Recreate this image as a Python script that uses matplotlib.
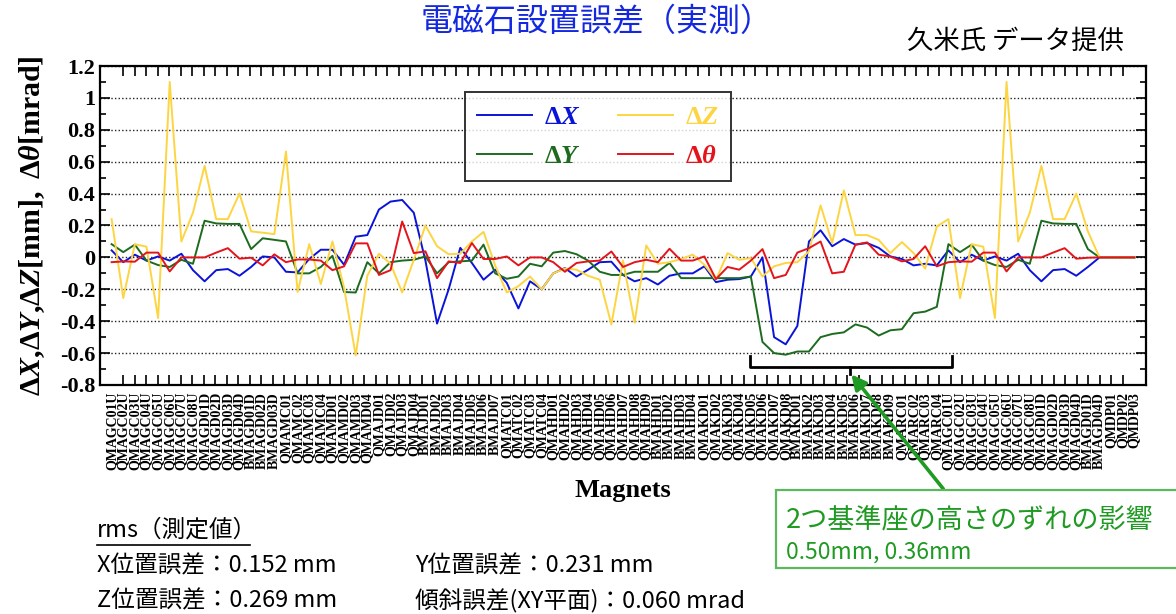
import matplotlib
matplotlib.use("Agg")
import matplotlib.pyplot as plt
from matplotlib.patches import Rectangle
from matplotlib.ticker import MultipleLocator, FuncFormatter, FixedLocator, NullFormatter
import numpy as np

# ---- data ----
# 72 magnets of the ring
ring_dx = [0.044, -0.03, 0.017, -0.02, 0.006, -0.02, 0.023, -0.08, -0.15, -0.08,
           -0.073, -0.115, -0.06, 0.006, 0.0, -0.09, -0.094, -0.01, 0.048, 0.048,
           -0.046, 0.13, 0.14, 0.30, 0.35, 0.36, 0.28, -0.02, -0.415, -0.20,
           0.06, -0.035, -0.14, -0.077, -0.16, -0.32, -0.15, -0.20, -0.10, -0.067,
           -0.12, -0.077, -0.03, -0.027, -0.11, -0.15, -0.13, -0.17, -0.115, -0.10,
           -0.10, -0.056, -0.155, -0.14, -0.136, -0.12, 0.0, -0.50, -0.545, -0.43,
           0.10, 0.17, 0.07, 0.115, 0.08, 0.09, 0.06, 0.006, -0.01, -0.05,
           -0.04, -0.05]
ring_dy = [0.083, 0.033, 0.08, -0.02, -0.048, -0.06, -0.015, -0.04, 0.23, 0.213,
           0.21, 0.21, 0.052, 0.12, 0.11, 0.10, -0.10, -0.10, -0.06, 0.01,
           -0.217, -0.22, -0.03, -0.10, -0.03, -0.02, -0.015, 0.006, -0.10, -0.03,
           -0.025, -0.02, 0.08, -0.10, -0.134, -0.12, -0.04, -0.056, 0.03, 0.04,
           0.02, -0.02, -0.09, -0.11, -0.11, -0.09, -0.09, -0.09, -0.035, -0.13,
           -0.13, -0.13, -0.13, -0.13, -0.13, -0.12, -0.53, -0.60, -0.61, -0.59,
           -0.59, -0.50, -0.48, -0.47, -0.42, -0.44, -0.49, -0.457, -0.45, -0.35,
           -0.34, -0.31]
ring_dz = [0.24, -0.255, 0.083, 0.067, -0.38, 1.10, 0.10, 0.28, 0.574, 0.24,
           0.24, 0.40, 0.163, 0.155, 0.146, 0.664, -0.217, 0.083, -0.167, 0.10,
           -0.19, -0.615, -0.115, 0.023, -0.04, -0.22, -0.015, 0.20, 0.07, 0.02,
           0.023, 0.10, 0.16, -0.05, -0.22, -0.18, -0.12, -0.20, -0.10, -0.07,
           -0.077, -0.115, -0.14, -0.42, -0.02, -0.41, 0.075, -0.04, -0.03, -0.01,
           0.017, -0.046, -0.14, 0.027, -0.015, -0.004, -0.12, -0.056, -0.035, -0.03,
           0.038, 0.326, 0.09, 0.42, 0.14, 0.14, 0.11, 0.027, 0.096, 0.027,
           -0.07, 0.194]
ring_dt = [-0.03, -0.025, -0.027, 0.03, 0.03, -0.088, 0.0, 0.0, 0.0, 0.03,
           0.058, -0.008, -0.002, -0.05, 0.019, -0.03, -0.013, -0.013, -0.02, -0.08,
           -0.056, 0.088, 0.088, -0.11, -0.08, 0.225, 0.027, 0.038, -0.13, -0.025,
           -0.035, 0.09, -0.01, -0.01, 0.006, -0.05, 0.0, 0.0, -0.03, -0.09,
           -0.035, -0.025, -0.02, 0.037, -0.06, -0.03, -0.015, -0.03, 0.054, -0.02,
           -0.02, 0.006, -0.136, -0.06, -0.077, -0.02, 0.052, -0.13, -0.11, 0.03,
           0.058, 0.10, -0.10, -0.09, 0.08, 0.094, 0.017, 0.006, -0.025, -0.01,
           0.07, -0.056]

# the ring closes: first 13 magnets are shown again, then 4 magnets at zero
n_repeat = 13
tail_zero = [0.0, 0.0, 0.0, 0.0]
dx = ring_dx + ring_dx[:n_repeat] + tail_zero
dy = ring_dy + ring_dy[:n_repeat] + tail_zero
dz = ring_dz + ring_dz[:n_repeat] + tail_zero
dt = ring_dt + ring_dt[:n_repeat] + tail_zero

ring_names = ([f"QMAGC0{n}U" for n in range(1, 9)]
              + [f"QMAGD0{n}D" for n in range(1, 5)]
              + [f"BMAGD0{n}D" for n in range(1, 4)]
              + [f"QMAMC0{n}" for n in range(1, 5)]
              + [f"QMAMD0{n}" for n in range(1, 5)]
              + [f"QMAJD0{n}" for n in range(1, 5)]
              + [f"BMAJD0{n}" for n in range(1, 8)]
              + [f"QMATC0{n}" for n in range(1, 5)]
              + [f"QMAHD0{n}" for n in range(1, 10)]
              + [f"BMAHD0{n}" for n in range(1, 5)]
              + [f"QMAKD0{n}" for n in range(1, 9)]
              + [f"BMAKD0{n}" for n in range(1, 10)]
              + [f"QMARC0{n}" for n in range(1, 5)])
magnets = ring_names + ring_names[:n_repeat] + ["BMAGD04D", "QMDP01", "QMDP02", "QMDP03"]

rms_lines = [("X位置誤差：0.152 mm", "Y位置誤差：0.231 mm"),
             ("Z位置誤差：0.269 mm", "傾斜誤差(XY平面)：0.060 mrad")]

# ---- style ----
plt.rcParams["mathtext.fontset"] = "custom"
plt.rcParams["mathtext.rm"] = "Liberation Serif:bold"
plt.rcParams["mathtext.it"] = "Liberation Serif:italic:bold"
plt.rcParams["mathtext.bf"] = "Liberation Serif:bold"
SERIF = "Liberation Serif"
JP = ["Noto Sans CJK JP", "DejaVu Sans"]

c_x = "#0a14d8"
c_y = "#1c6b1f"
c_z = "#fdd542"
c_t = "#e3141b"
c_note = "#1f9a22"

W, H = 1176, 614
fig = plt.figure(figsize=(W / 100, H / 100), dpi=100)
ax = fig.add_axes([100 / W, 1 - 385 / H, 1046 / W, 319 / H])

x = np.arange(len(dx))
ax.plot(x, dx, color=c_x, lw=1.4, label=r"$\mathit{\Delta X}$", zorder=3)
ax.plot(x, dy, color=c_y, lw=1.4, label=r"$\mathit{\Delta Y}$", zorder=3)
ax.plot(x, dz, color=c_z, lw=1.4, label=r"$\mathit{\Delta Z}$", zorder=3)
ax.plot(x, dt, color=c_t, lw=1.4, label=r"$\mathit{\Delta\theta}$", zorder=4)

n = len(dx)
ax.set_xlim(-1, n)
ax.set_ylim(-0.8, 1.2)
ax.yaxis.set_major_locator(MultipleLocator(0.2))
ax.yaxis.set_minor_locator(MultipleLocator(0.1))
ax.yaxis.set_major_formatter(FuncFormatter(lambda v, p: "%g" % round(v, 1)))
ax.grid(axis="y", which="major", color="#222222", linestyle=(0, (1, 1.6)), lw=1.0)
ax.tick_params(axis="y", which="both", direction="in", left=True, right=True,
               length=7, width=1.2)
ax.tick_params(axis="y", which="minor", length=4)
for lab in ax.get_yticklabels():
    lab.set_fontfamily(SERIF)
    lab.set_fontweight("bold")
    lab.set_fontsize(16)

# one label per magnet, tick marks spread evenly over the same span (one more mark than magnets)
ax.set_xticks(x)
ax.set_xticklabels(magnets, rotation=90, fontfamily=SERIF, fontweight="bold", fontsize=10)
ax.xaxis.set_minor_locator(FixedLocator(np.linspace(0, n - 1, n + 1)))
ax.xaxis.set_minor_formatter(NullFormatter())
ax.tick_params(axis="x", which="major", length=0, pad=5)
ax.tick_params(axis="x", which="minor", direction="in", top=True, bottom=True, length=7, width=1.2)
for sp in ax.spines.values():
    sp.set_linewidth(1.6)

ax.set_ylabel(r"$\mathit{\Delta X}\mathrm{,}\mathit{\Delta Y}\mathrm{,}\mathit{\Delta Z}\mathrm{[mm],\ }\mathit{\Delta\theta}\mathrm{[mrad]}$",
              fontsize=21.5, labelpad=9)
ax.set_xlabel("Magnets", fontfamily=SERIF, fontweight="bold", fontsize=19, labelpad=6)

leg = ax.legend(loc="upper left", bbox_to_anchor=(365 / 1046, 293 / 319, 266 / 1046, 0),
                mode="expand", ncol=2, fontsize=19, frameon=True, fancybox=False,
                borderaxespad=0, handlelength=2.1, borderpad=0.45, labelspacing=0.5,
                columnspacing=1.4, handletextpad=0.45)
leg.get_frame().set_edgecolor("black")
leg.get_frame().set_linewidth(1.4)
for txt, col in zip(leg.get_texts(), [c_x, c_y, c_z, c_t]):
    txt.set_color(col)

# bracket over the affected magnets
bx0, bx1, bmid = 54.9, 72.3, 63.5
ax.plot([bx0, bx0, bx1, bx1], [-0.62, -0.69, -0.69, -0.62], color="black", lw=2,
        clip_on=False, zorder=5)
ax.plot([bmid, bmid], [-0.69, -0.73], color="black", lw=2, clip_on=False, zorder=5)

# note box with arrow
fig.patches.append(Rectangle((776 / W, 1 - 568 / H), 420 / W, 78 / H, transform=fig.transFigure,
                             facecolor="white", edgecolor="#5cb85c", lw=1.6, zorder=2))
ax.annotate("", xy=(bmid, -0.72), xycoords="data",
            xytext=(945 / W, 1 - 491 / H), textcoords="figure fraction",
            arrowprops=dict(arrowstyle="-|>", color=c_note, lw=2.6, mutation_scale=22),
            annotation_clip=False, zorder=6)
fig.text(786 / W, 1 - 521 / H, "2つ基準座の高さのずれの影響", family=JP, fontsize=19.5,
         color=c_note, va="center", ha="left")
fig.text(786 / W, 1 - 552 / H, "0.50mm, 0.36mm", family=JP, fontsize=16.5,
         color=c_note, va="center", ha="left")

# titles
fig.text(597 / W, 1 - 22 / H, "電磁石設置誤差（実測）", family=JP, fontsize=23,
         color="#1428e0", ha="center", va="center")
fig.text(1015 / W, 1 - 41 / H, "久米氏 データ提供", family=JP, fontsize=19,
         color="black", ha="center", va="center")

# rms summary
fig.text(97 / W, 1 - 530 / H, "rms（測定値）", family=JP, fontsize=17, ha="left", va="center")
fig.add_artist(plt.Line2D([97 / W, 250 / W], [1 - 545 / H, 1 - 545 / H], color="black", lw=1.2,
                          transform=fig.transFigure))
for row, (left_txt, right_txt) in enumerate(rms_lines):
    yy = 1 - (566 + 35 * row) / H
    fig.text(97 / W, yy, left_txt, family=JP, fontsize=17, ha="left", va="center")
    fig.text(415 / W, yy, right_txt, family=JP, fontsize=17, ha="left", va="center")

fig.savefig("out.png", dpi=100)
